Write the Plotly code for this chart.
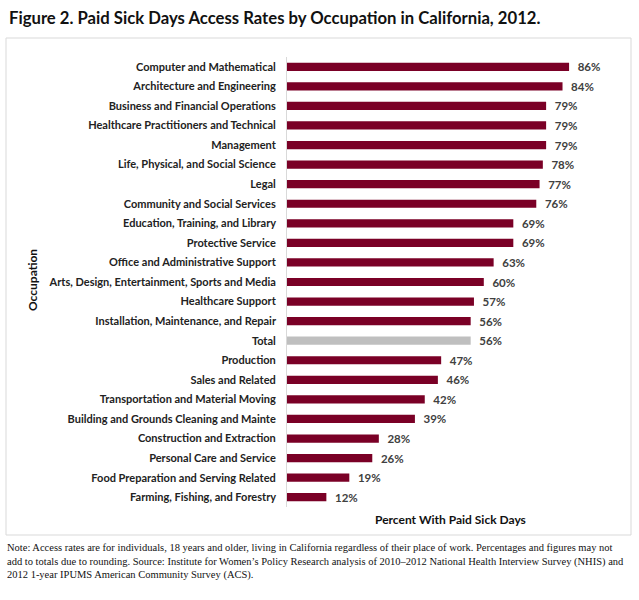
import plotly.graph_objects as go

occupations = [
    "Computer and Mathematical",
    "Architecture and Engineering",
    "Business and Financial Operations",
    "Healthcare Practitioners and Technical",
    "Management",
    "Life, Physical, and Social Science",
    "Legal",
    "Community and Social Services",
    "Education, Training, and Library",
    "Protective Service",
    "Office and Administrative Support",
    "Arts, Design, Entertainment, Sports and Media",
    "Healthcare Support",
    "Installation, Maintenance, and Repair",
    "Total",
    "Production",
    "Sales and Related",
    "Transportation and Material Moving",
    "Building and Grounds Cleaning and Mainte",
    "Construction and Extraction",
    "Personal Care and Service",
    "Food Preparation and Serving Related",
    "Farming, Fishing, and Forestry",
]
rates = [86, 84, 79, 79, 79, 78, 77, 76, 69, 69, 63, 60, 57, 56, 56, 47, 46, 42, 39, 28, 26, 19, 12]

MAROON = "#7a0026"
GREY = "#bfbfbf"
colors = [GREY if o == "Total" else MAROON for o in occupations]

W, H = 639, 600
L, R, T, B = 287, 24, 57, 93
pw, ph = W - L - R, H - T - B

def px(x):
    return (x - L) / pw

def py(y):
    return (H - B - y) / ph

fig = go.Figure(go.Bar(
    x=rates,
    y=occupations,
    orientation="h",
    marker=dict(color=colors, line=dict(width=0)),
    width=0.42,
    text=[f"  {v}%" for v in rates],
    textposition="outside",
    constraintext="none",
    textfont=dict(family="Lato", size=11.5, color="#404040", weight="bold"),
    cliponaxis=False,
))

fig.update_layout(
    width=W, height=H,
    margin=dict(l=L, r=R, t=T, b=B),
    plot_bgcolor="white", paper_bgcolor="white",
    showlegend=False,
    xaxis=dict(range=[0, 100], showticklabels=False, showgrid=False, zeroline=False,
               showline=False, fixedrange=True),
    yaxis=dict(autorange="reversed", showgrid=False, zeroline=False, showline=True,
               linecolor="#d9d9d9", linewidth=1, ticks="", ticksuffix="   ",
               tickfont=dict(family="Lato", size=11, color="#222222", weight="bold")),
    shapes=[dict(type="rect", xref="paper", yref="paper",
                 x0=px(6), x1=px(631), y0=py(535), y1=py(38),
                 line=dict(color="#d9d9d9", width=1), layer="below")],
    annotations=[
        dict(text="<b>Figure 2. Paid Sick Days Access Rates by Occupation in California, 2012.</b>",
             xref="paper", yref="paper", x=px(7), y=py(18), xanchor="left", yanchor="middle",
             showarrow=False, font=dict(family="Lato", size=16.7, color="#111111", weight=900)),
        dict(text="<b>Occupation</b>", textangle=-90, xref="paper", yref="paper",
             x=px(32), y=py(280), xanchor="center", yanchor="middle", showarrow=False,
             font=dict(family="Lato", size=12, color="#111111")),
        dict(text="<b>Percent With Paid Sick Days</b>", xref="paper", yref="paper",
             x=px(450), y=py(519), xanchor="center", yanchor="middle", showarrow=False,
             font=dict(family="Lato", size=12, color="#111111")),
        dict(text=("Note: Access rates are for individuals, 18 years and older, living in California regardless of their place of work. Percentages and figures may not<br>"
                   "add to totals due to rounding. Source: Institute for Women\u2019s Policy Research analysis of 2010\u20132012 National Health Interview Survey (NHIS) and<br>"
                   "2012 1-year IPUMS American Community Survey (ACS)."),
             xref="paper", yref="paper", x=px(5), y=py(540), xanchor="left", yanchor="top",
             align="left", showarrow=False,
             font=dict(family="Liberation Serif", size=10.5, color="#111111")),
    ],
)

fig.write_html("out.html")
